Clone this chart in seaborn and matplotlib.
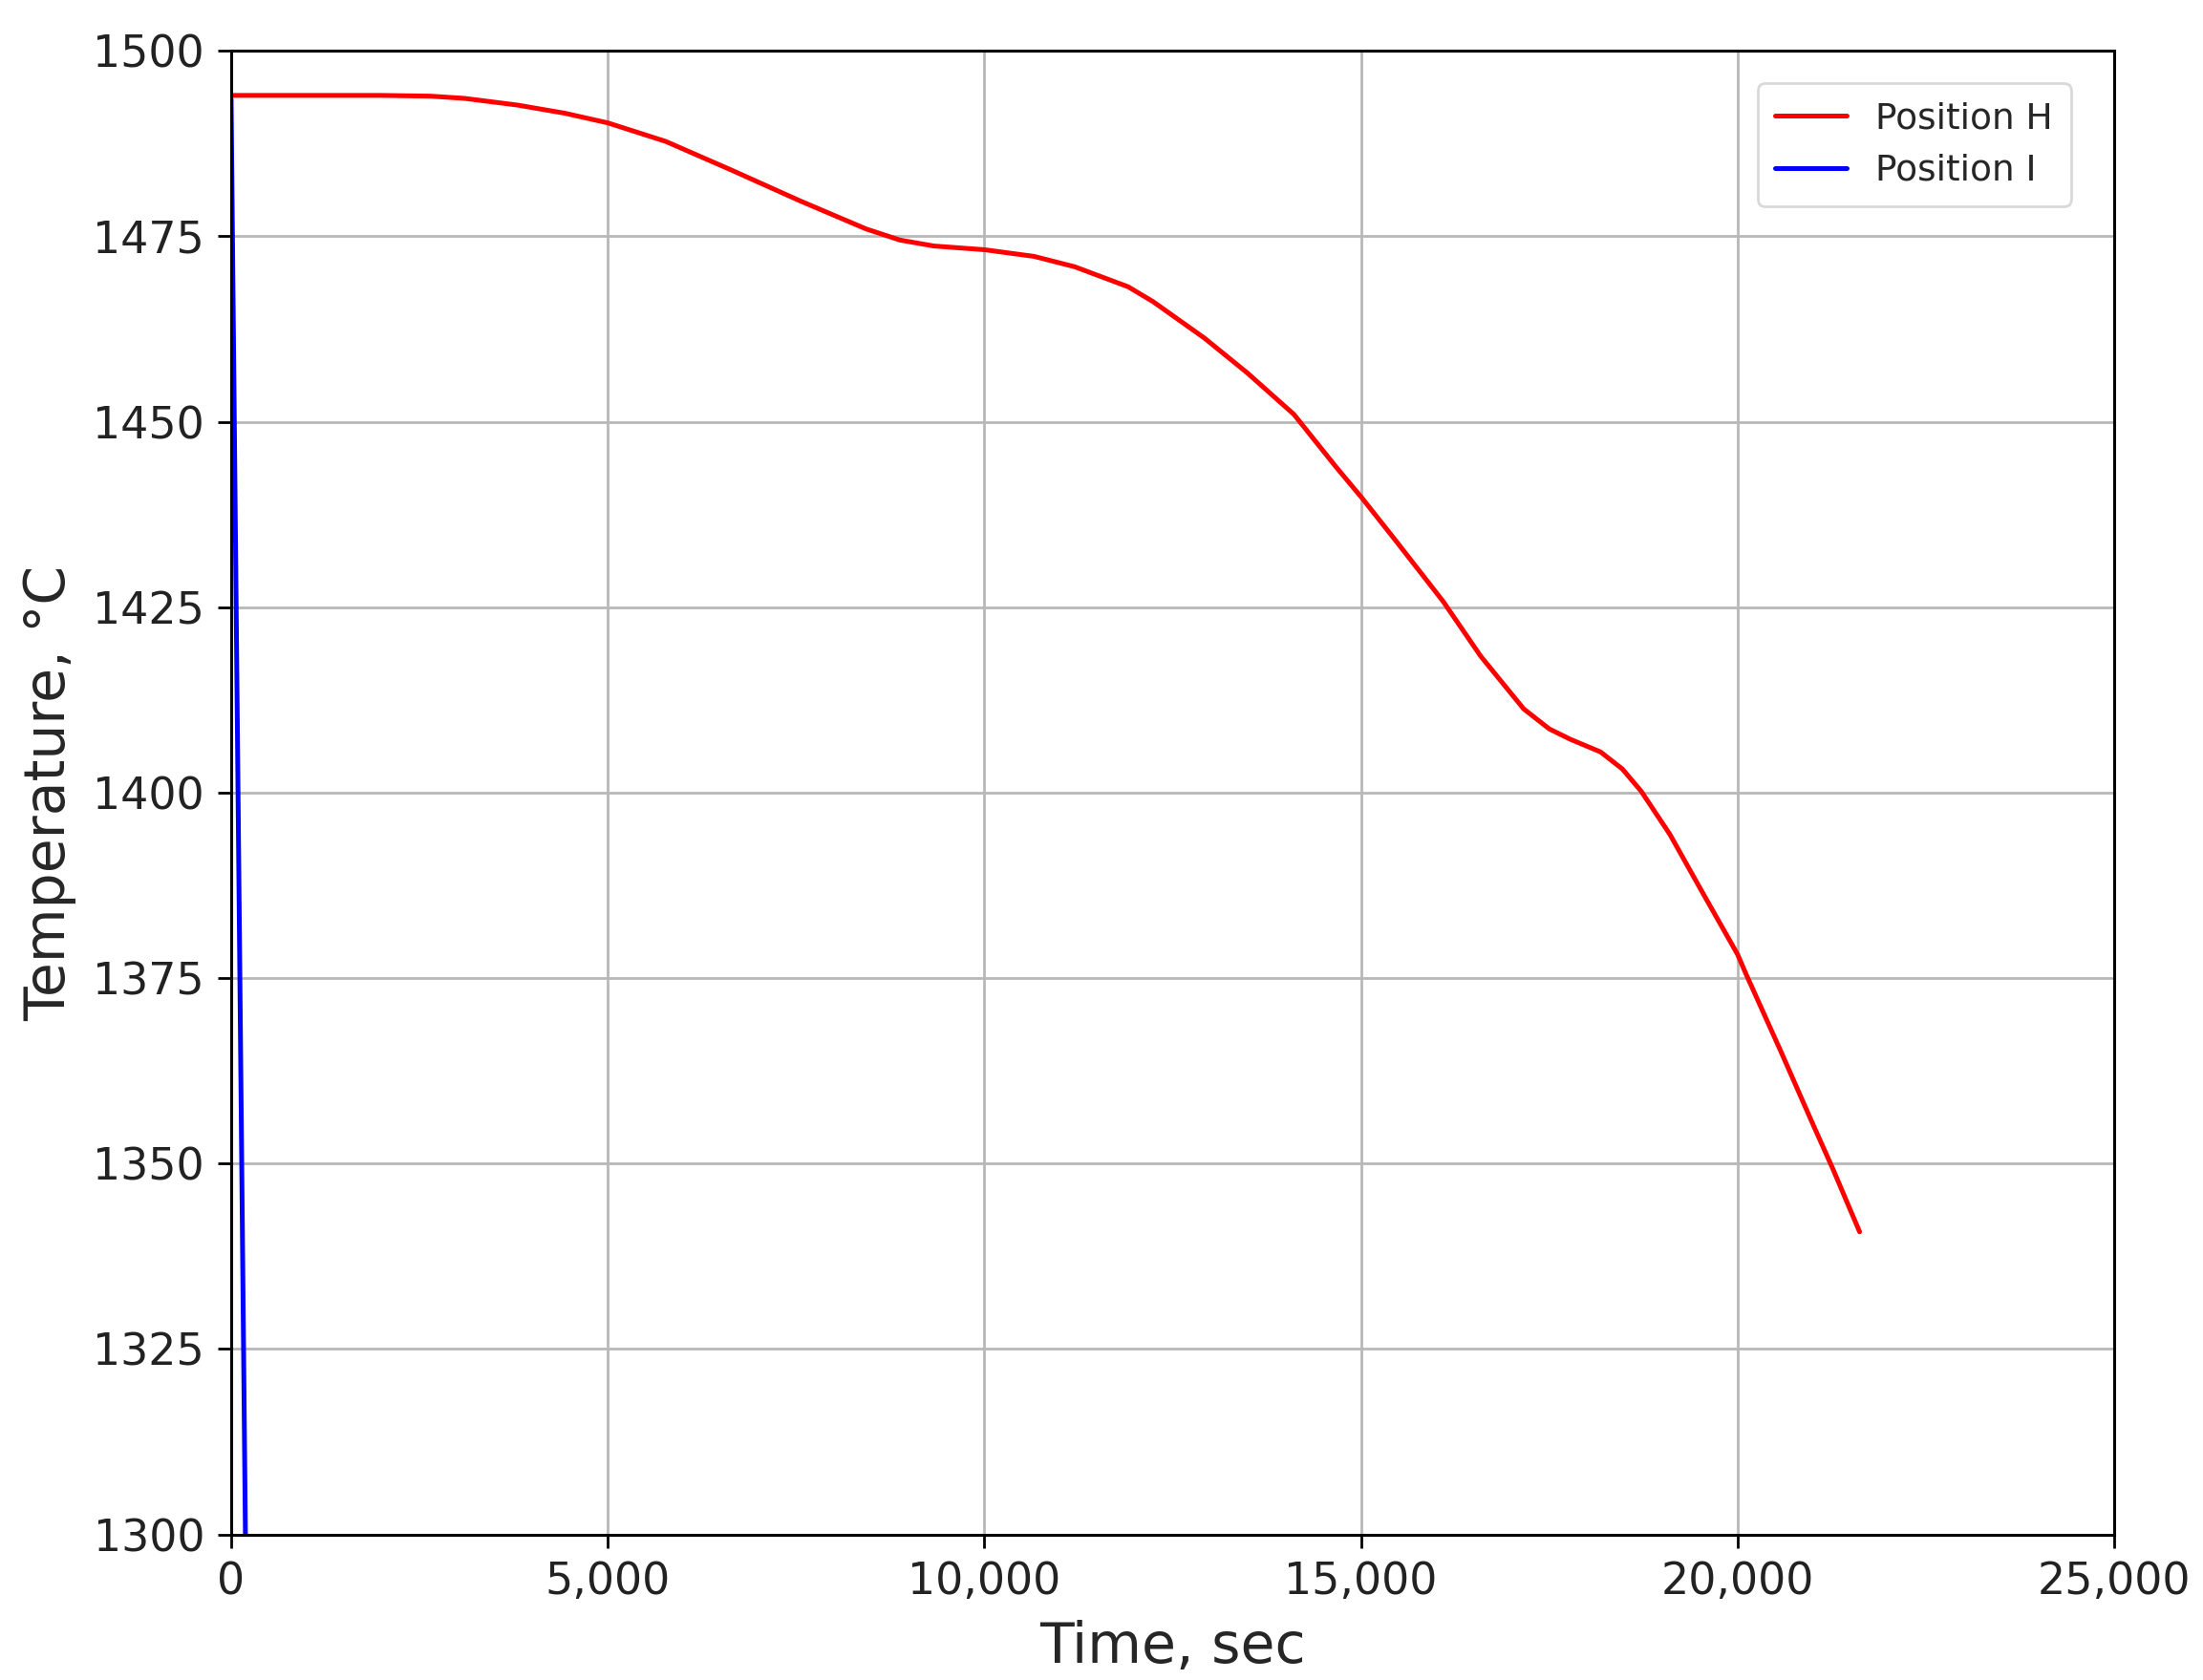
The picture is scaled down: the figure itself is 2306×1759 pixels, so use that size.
import numpy as np
import pandas as pd
import matplotlib
matplotlib.use("Agg")
import matplotlib.pyplot as plt
from matplotlib.ticker import FuncFormatter
import seaborn as sns

# ---- data ----
time_h = [0, 1000, 2000, 2650, 3100, 3800, 4430, 5000, 5770, 6650, 7550, 8430,
          8880, 9330, 10000, 10660, 11200, 11910, 12240, 12920, 13490, 14110,
          14670, 15000, 15460, 16090, 16590, 17160, 17500, 17780, 18180, 18470,
          18720, 19100, 19520, 20000, 20110, 20580, 21000, 21260, 21620]
temp_h = [1494.0, 1494.0, 1494.0, 1493.9, 1493.6, 1492.7, 1491.6, 1490.3, 1487.8,
          1483.9, 1479.8, 1476.0, 1474.5, 1473.7, 1473.2, 1472.3, 1470.9, 1468.2,
          1466.2, 1461.3, 1456.6, 1451.0, 1443.9, 1439.9, 1434.0, 1425.8, 1418.4,
          1411.3, 1408.6, 1407.2, 1405.5, 1403.2, 1400.2, 1394.4, 1386.8, 1378.2,
          1375.6, 1365.0, 1355.3, 1349.4, 1340.8]

time_i = [0, 100, 200, 300]
temp_i = [1493.5, 1392.0, 1290.0, 1190.0]

series_names = ["Position H", "Position I"]
series_colors = ["red", "blue"]

x_ticks = [0, 5000, 10000, 15000, 20000, 25000]
y_ticks = [1300, 1325, 1350, 1375, 1400, 1425, 1450, 1475, 1500]

df = pd.concat([
    pd.DataFrame({"Time": time_h, "Temp": temp_h, "Series": series_names[0]}),
    pd.DataFrame({"Time": time_i, "Temp": temp_i, "Series": series_names[1]}),
], ignore_index=True)

sns.set_style("whitegrid", {
    "axes.edgecolor": "black",
    "grid.color": "#b8b8b8",
    "xtick.bottom": True,
    "ytick.left": True,
    "axes.linewidth": 1.1,
})
plt.rcParams['font.family'] = ['DejaVu Sans']

fig = plt.figure(figsize=(11.53, 8.795), dpi=200)
ax = fig.add_axes([0.1049, 0.0866, 0.8548, 0.8831])

sns.lineplot(data=df, x="Time", y="Temp", hue="Series", palette=series_colors,
             hue_order=series_names, sort=False, linewidth=1.8, ax=ax, legend=True)
for ln in ax.get_lines():
    ln.set_solid_joinstyle("round")
    ln.set_solid_capstyle("round")

ax.set_xlim(0, 25000)
ax.set_ylim(1300, 1500)
ax.set_xticks(x_ticks)
ax.set_yticks(y_ticks)
ax.xaxis.set_major_formatter(FuncFormatter(lambda v, p: f"{int(v):,}"))
ax.tick_params(axis="both", which="major", labelsize=16.5, length=5, width=1,
               color="black", labelcolor="#222222", pad=5)
ax.grid(True, linewidth=1.0, color="#b8b8b8")
for s in ax.spines.values():
    s.set_color("black")
    s.set_linewidth(1.1)

ax.set_xlabel("Time, sec", fontsize=21, labelpad=6)
ax.set_ylabel("Temperature, °C", fontsize=21, labelpad=6)

leg = ax.legend(loc="upper right", bbox_to_anchor=(0.977, 0.978), borderaxespad=0,
                fontsize=13.5, frameon=True, fancybox=True, handlelength=2.0,
                borderpad=0.5, labelspacing=0.5, title=None)
leg.get_frame().set_edgecolor("#d0d0d0")
leg.get_frame().set_linewidth(1.0)
for lh in leg.get_lines():
    lh.set_linewidth(1.8)

fig.savefig("out.png", dpi=200, facecolor="white")
